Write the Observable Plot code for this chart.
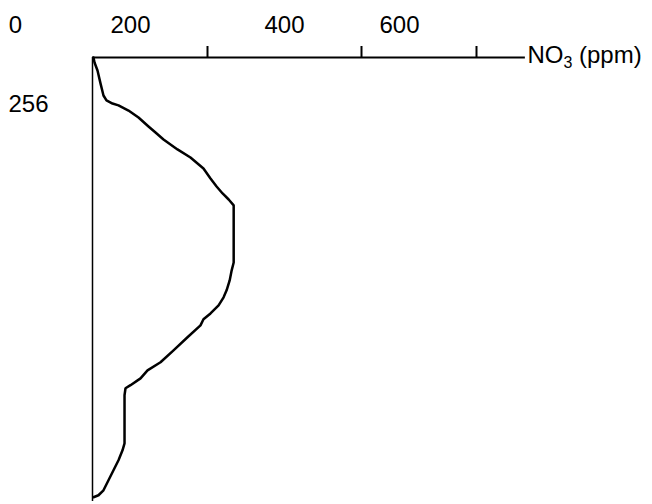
<!DOCTYPE html>
<html><head><meta charset="utf-8">
<script src="https://cdn.jsdelivr.net/npm/d3@7"></script>
<script src="https://cdn.jsdelivr.net/npm/@observablehq/plot@0.6"></script>
<style>body{margin:0;background:#fff}</style></head>
<body><div id="chart"></div>
<script>
const no3 = [1.7,3.5,8.7,13.9,19.1,24.3,34.8,45.2,62.6,80,97.4,109.6,123.5,147.8,170.4,193,203.9,211.8,219.6,227.5,234,234,231.4,228.8,224.8,220.9,214.4,203.9,193,187.8,165.2,140.9,118.3,95.7,83.5,66.1,57.4,55.7,55.7,52.2,45.2,36.5,27.8,19.1,10.4,1.7];
const depth = [0,27,71,141,207,234,251,261,289,327,376,409,447,501,545,605,659,703,741,774,806,1117,1160,1215,1269,1307,1351,1395,1427,1460,1525,1596,1661,1705,1749,1786,1803,1841,2103,2141,2195,2250,2304,2359,2386,2397];
const xTickLabels = [0,200,400,600];
const xTickMarks = [200,400,600];
const yTickLabels = [256];
const xAxisEnd = 685;
const depthMax = 2420;
const axisLabel = "NO3 (ppm)";

const data = no3.map((v,i)=>({no3:v, depth:depth[i]}));

const chart = Plot.plot({
  width:652, height:504,
  marginTop:57, marginBottom:3, marginLeft:92, marginRight:0,
  style:{fontFamily:"'Liberation Sans', Arial, sans-serif", fontSize:"24px", background:"white", color:"black"},
  x:{type:"linear", domain:[0,200,400,600], range:[92,207,361,476]},
  y:{domain:[0,depthMax], range:[57,501]},
  marks:[
    Plot.ruleY([0], {x1:0, x2:xAxisEnd, stroke:"black", strokeWidth:2}),
    Plot.ruleX([0], {y1:0, y2:depthMax, stroke:"black", strokeWidth:1.5}),
    Plot.axisX(xTickMarks, {anchor:"top", tickSize:12, strokeWidth:2, tickFormat:()=>"", label:null}),
    Plot.axisX(xTickLabels, {anchor:"top", tickSize:0, tickPadding:25, dx:-77, fontSize:24, label:null}),
    Plot.axisY(yTickLabels, {anchor:"left", tickSize:0, tickPadding:44, fontSize:24, label:null}),
    Plot.line(data, {x:"no3", y:"depth", stroke:"black", strokeWidth:2.5}),
    Plot.text([axisLabel], {x:xAxisEnd, y:0, text:d=>d, textAnchor:"start", lineAnchor:"bottom", dx:2, dy:5, fontSize:24, fill:"black"})
  ]
});
document.getElementById("chart").appendChild(chart);

d3.select(chart).selectAll("text").filter(function(){return this.textContent===axisLabel;}).each(function(){
  const t = d3.select(this);
  t.text("");
  t.append("tspan").text("NO");
  t.append("tspan").attr("font-size",16).attr("dy",5).text("3");
  t.append("tspan").attr("dy",-5).text(" (ppm)");
});
</script></body></html>
